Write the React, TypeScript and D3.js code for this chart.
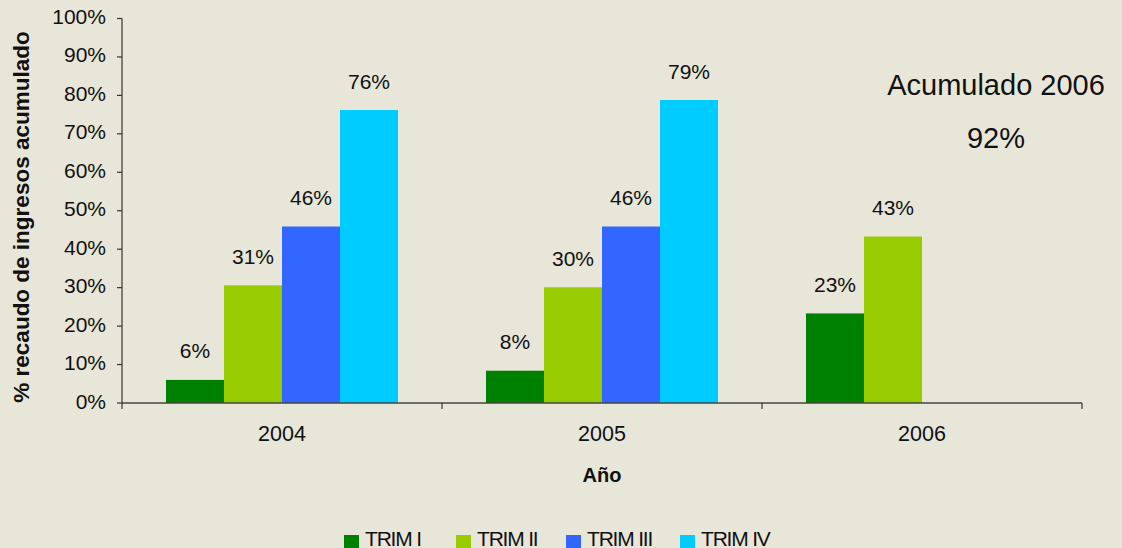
import React from 'react';
import * as d3 from 'd3';

const years = ['2004', '2005', '2006'];
const series = ['TRIM I', 'TRIM II', 'TRIM III', 'TRIM IV'];
const colors = ['#008000', '#99cc00', '#3366ff', '#00ccff'];
// values per year, per quarter (null = no data)
const trim1 = [6, 8.4, 23.3];
const trim2 = [30.6, 30.1, 43.3];
const trim3 = [45.9, 45.9, null];
const trim4 = [76.2, 78.8, null];
const labels1 = ['6%', '8%', '23%'];
const labels2 = ['31%', '30%', '43%'];
const labels3 = ['46%', '46%', ''];
const labels4 = ['76%', '79%', ''];
const yTicks = [0, 10, 20, 30, 40, 50, 60, 70, 80, 90, 100];

const values = [trim1, trim2, trim3, trim4];
const labels = [labels1, labels2, labels3, labels4];

const W = 1122;
const H = 548;
const font = '"Liberation Sans", Arial, sans-serif';

export default function App() {
  const x0 = d3.scaleBand().domain(years).range([122, 1082]).paddingInner(0).paddingOuter(0);
  const x1 = d3.scaleBand().domain(series).range([44, x0.bandwidth() - 44]);
  const y = d3.scaleLinear().domain([0, 100]).range([403, 18.5]);

  const legendSq = [344, 456, 566, 680];

  return (
    <svg width={W} height={H} style={{ position: 'absolute', left: 0, top: 0, background: '#e8e6d8' }}>
      <rect x={0} y={0} width={W} height={H} fill="#e8e6d8" />
      {/* bars */}
      {years.map((yr, i) => (
        <g key={yr} transform={`translate(${x0(yr)},0)`}>
          {series.map((s, j) => {
            const v = values[j][i];
            if (v == null) return null;
            const bx = x1(s)!;
            return (
              <g key={s}>
                <rect x={bx} y={y(v)} width={x1.bandwidth()} height={y(0) - y(v)} fill={colors[j]} />
                <text x={bx + x1.bandwidth() / 2} y={y(v) - 27} textAnchor="middle" dominantBaseline="middle"
                  fontFamily={font} fontSize={21} fill="#111">{labels[j][i]}</text>
              </g>
            );
          })}
        </g>
      ))}
      {/* y axis */}
      <line x1={122} x2={122} y1={y(100)} y2={y(0)} stroke="#333" strokeWidth={1.2} />
      {yTicks.map(t => (
        <g key={t}>
          <line x1={117} x2={122} y1={y(t)} y2={y(t)} stroke="#333" strokeWidth={1.2} />
          <text x={106} y={y(t)} textAnchor="end" dominantBaseline="middle" fontFamily={font} fontSize={21} fill="#111">{t}%</text>
        </g>
      ))}
      {/* x axis */}
      <line x1={122} x2={1082} y1={y(0)} y2={y(0)} stroke="#444" strokeWidth={1.6} />
      {[...years.map(yr => x0(yr)!), 1082].map((tx, i) => (
        <line key={i} x1={tx} x2={tx} y1={y(0)} y2={y(0) + 6} stroke="#333" strokeWidth={1.2} />
      ))}
      {years.map(yr => (
        <text key={yr} x={x0(yr)! + x0.bandwidth() / 2} y={435} textAnchor="middle" dominantBaseline="middle"
          fontFamily={font} fontSize={21.5} fill="#111">{yr}</text>
      ))}
      <text x={602} y={477} textAnchor="middle" dominantBaseline="middle" fontFamily={font} fontSize={20}
        fontWeight="bold" fill="#111">Año</text>
      <text transform={`translate(23,217) rotate(-90)`} textAnchor="middle" dominantBaseline="middle"
        fontFamily={font} fontSize={22.5} fontWeight="bold" fill="#111">% recaudo de ingresos acumulado</text>
      {/* annotation */}
      <text x={996} y={87} textAnchor="middle" dominantBaseline="middle" fontFamily={font} fontSize={29} fill="#111">Acumulado 2006</text>
      <text x={996} y={140} textAnchor="middle" dominantBaseline="middle" fontFamily={font} fontSize={29} fill="#111">92%</text>
      {/* legend */}
      {series.map((s, j) => (
        <g key={s}>
          <rect x={legendSq[j]} y={535} width={15} height={15} fill={colors[j]} />
          <text x={legendSq[j] + 21} y={546} fontFamily={font} fontSize={21} letterSpacing={-1.2} fill="#111">{s}</text>
        </g>
      ))}
    </svg>
  );
}
